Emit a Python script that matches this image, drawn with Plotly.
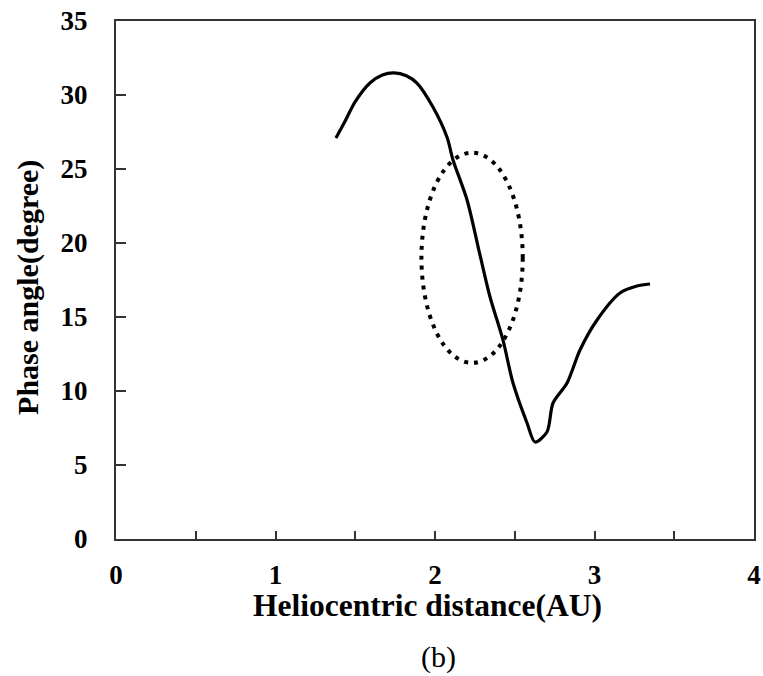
import plotly.graph_objects as go

# Data
distance_au = [1.379, 1.430, 1.500, 1.592, 1.670, 1.743, 1.820, 1.887, 1.987, 2.075,
               2.113, 2.201, 2.282, 2.345, 2.426, 2.489, 2.577, 2.627, 2.702, 2.740,
               2.828, 2.909, 3.016, 3.160, 3.266, 3.348]
phase_angle_deg = [27.09, 28.10, 29.55, 30.81, 31.35, 31.49, 31.30, 30.81, 29.19, 27.16,
                   25.61, 22.91, 19.19, 16.35, 13.45, 10.54, 7.84, 6.55, 7.23, 9.19,
                   10.54, 12.77, 14.80, 16.62, 17.09, 17.23]

# Dotted ellipse (data coordinates)
ellipse_x = [1.915, 2.550]
ellipse_y = [11.9, 26.1]

x_tick_vals = [0, 0.5, 1, 1.5, 2, 2.5, 3, 3.5, 4]
x_tick_text = ["0", "", "1", "", "2", "", "3", "", "4"]
y_tick_vals = [0, 5, 10, 15, 20, 25, 30, 35]
y_tick_text = ["0", "5", "10", "15", "20", "25", "30", "35"]

FONT = "Liberation Serif, Times New Roman, serif"
AXC = "#333333"

fig = go.Figure()
fig.add_trace(go.Scatter(
    x=distance_au, y=phase_angle_deg, mode="lines",
    line=dict(color="black", width=3.2, shape="spline", smoothing=0.8),
    showlegend=False, hoverinfo="skip"))

fig.add_shape(type="circle", xref="x", yref="y",
              x0=ellipse_x[0], x1=ellipse_x[1], y0=ellipse_y[0], y1=ellipse_y[1],
              line=dict(color="black", width=4, dash="4px,6px"))

fig.update_layout(
    width=763, height=676,
    margin=dict(l=116, r=9, t=21, b=137),
    paper_bgcolor="white", plot_bgcolor="white",
    font=dict(family=FONT, color="black"),
    xaxis=dict(range=[0, 4], tickvals=x_tick_vals, ticktext=x_tick_text,
               ticks="inside", ticklen=8, tickwidth=2, tickcolor=AXC,
               showline=True, linecolor=AXC, linewidth=2, mirror=True,
               showgrid=False, zeroline=False, automargin=False,
               tickfont=dict(family=FONT, size=27, color="black", weight="bold"),
               ticklabelstandoff=11),
    yaxis=dict(range=[0, 35], tickvals=y_tick_vals, ticktext=y_tick_text,
               ticks="inside", ticklen=10, tickwidth=2, tickcolor=AXC,
               showline=True, linecolor=AXC, linewidth=2, mirror=True,
               showgrid=False, zeroline=False, automargin=False,
               tickfont=dict(family=FONT, size=27, color="black", weight="bold"),
               ticklabelstandoff=21),
    annotations=[
        dict(text="<b>Heliocentric distance(AU)</b>", xref="paper", yref="paper",
             x=0.489, y=-0.128, showarrow=False, xanchor="center", yanchor="middle",
             font=dict(family=FONT, size=31.5, color="black")),
        dict(text="<b>Phase angle(degree)</b>", xref="paper", yref="paper",
             x=-0.138, y=0.4865, showarrow=False, xanchor="center", yanchor="middle",
             textangle=-90, font=dict(family=FONT, size=30, color="black")),
        dict(text="(b)", xref="paper", yref="paper",
             x=0.505, y=-0.228, showarrow=False, xanchor="center", yanchor="middle",
             font=dict(family=FONT, size=30, color="black")),
    ],
)

fig.write_html("out.html", config={"displayModeBar": False},
               post_script="document.body.style.margin='0';document.body.style.overflow='hidden';")
